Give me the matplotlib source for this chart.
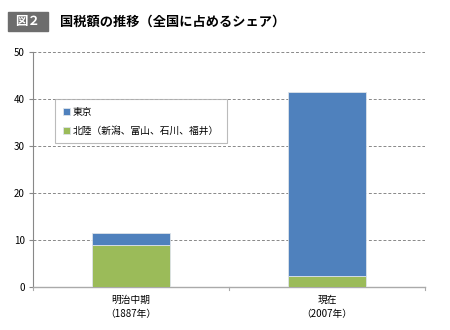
import matplotlib.pyplot as plt
from matplotlib.patches import Rectangle

plt.rcParams['font.family'] = ['Noto Sans CJK JP', 'DejaVu Sans']

categories = ['明治中期\n（1887年）', '現在\n（2007年）']
hokuriku = [8.9, 2.3]
tokyo = [2.6, 39.2]
series_names = ['東京', '北陸（新潟、富山、石川、福井）']
yticks = [0, 10, 20, 30, 40, 50]

blue = '#4F81BD'
green = '#9BBB59'

fig = plt.figure(figsize=(4.5, 3.3), dpi=100)
ax = fig.add_axes([0.0733, 0.1303, 0.8711, 0.7121])

x = [0, 1]
b1 = ax.bar(x, hokuriku, width=0.4, color=green, edgecolor='#dde3ea', linewidth=0.6,
            label=series_names[1], zorder=3)
b2 = ax.bar(x, tokyo, width=0.4, bottom=hokuriku, color=blue, edgecolor='#dde3ea',
            linewidth=0.6, label=series_names[0], zorder=3)

ax.set_xlim(-0.5, 1.5)
ax.set_ylim(0, 50)
ax.set_yticks(yticks)
ax.set_yticklabels([str(v) for v in yticks], fontsize=7)
ax.set_xticks(x)
ax.set_xticklabels(categories, fontsize=7, linespacing=1.5)
ax.tick_params(axis='x', length=0, pad=6)
ax.tick_params(axis='y', length=3, color='#888888', pad=3)
for v in [-0.5, 0.5, 1.5]:
    ax.plot([v, v], [0, -0.6], color='#aaaaaa', lw=0.8, clip_on=False)

ax.yaxis.grid(True, linestyle=(0, (3, 2)), color='#888888', linewidth=0.7, zorder=0)
for s in ['top', 'right']:
    ax.spines[s].set_visible(False)
ax.spines['left'].set_color('#888888')
ax.spines['bottom'].set_color('#aaaaaa')
ax.spines['bottom'].set_linewidth(1.0)

leg = ax.legend(handles=[b2, b1], loc='upper left', bbox_to_anchor=(0.045, 0.82),
                fontsize=7, frameon=True, fancybox=False, handlelength=0.7,
                handleheight=0.7, handletextpad=0.3, borderpad=0.8, labelspacing=0.9)
leg.get_frame().set_edgecolor('#aaaaaa')
leg.get_frame().set_linewidth(0.8)

fig.patches.append(Rectangle((8 / 450, 1 - 31 / 330), 40 / 450, 19 / 330,
                             transform=fig.transFigure, color='#6d6d6d'))
fig.text(28 / 450, 1 - 21.5 / 330, '図２', color='white', fontsize=9,
         fontweight='bold', ha='center', va='center')
fig.text(60 / 450, 1 - 21.5 / 330, '国税額の推移（全国に占めるシェア）', fontsize=9.5,
         fontweight='bold', ha='left', va='center')

fig.savefig('out.png', dpi=100)
